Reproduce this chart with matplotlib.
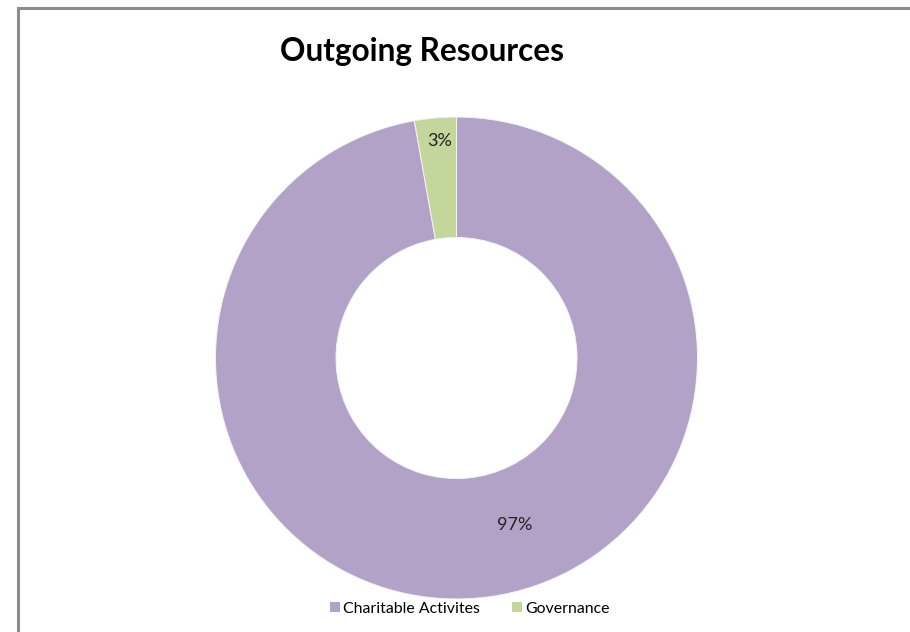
import matplotlib
matplotlib.use("Agg")
import matplotlib.pyplot as plt
from matplotlib.patches import Rectangle, Patch

categories = ["Charitable Activites", "Governance"]
values = [97.2, 2.8]
pct_labels = ["97%", "3%"]
colors = ["#B3A2C7", "#C3D69B"]
title = "Outgoing Resources"

W, H = 910, 632
fig = plt.figure(figsize=(W / 100, H / 100), dpi=100)
fig.patch.set_facecolor("white")

# outer border (left and top visible)
fig.add_artist(Rectangle((17.5 / W, -0.1), 1.2, (H - 7.5) / H + 0.1,
                         transform=fig.transFigure, fill=False,
                         edgecolor="#8c8c8c", linewidth=2.2))

cx, cy, r = 456.5, 358, 241
ax = fig.add_axes([(cx - r) / W, (H - cy - r) / H, 2 * r / W, 2 * r / H])
wedges, _ = ax.pie(values, colors=colors, startangle=90, counterclock=False,
                   radius=1.0, wedgeprops=dict(width=0.5, edgecolor="#f4f4f4",
                                               linewidth=0.7))
ax.set_xlim(-1, 1)
ax.set_ylim(-1, 1)
ax.set_aspect("equal")
ax.axis("off")

font = ["Lato", "DejaVu Sans"]
# data labels
label_pos = [((515 - cx) / r, (cy - 525) / r), ((440 - cx) / r, (cy - 141) / r)]
for (x, y), t in zip(label_pos, pct_labels):
    ax.text(x, y, t, ha="center", va="center", fontsize=13, color="#222222",
            family=font)

fig.text(422 / W, 1 - 51 / H, title, ha="center", va="center", fontsize=22.7,
         fontweight="bold", family=font, color="black")

handles = [Patch(facecolor=c, edgecolor="none") for c in colors]
leg = fig.legend(handles, categories, loc="center", bbox_to_anchor=(470 / W, 1 - 609 / H),
                 ncol=2, frameon=False, handlelength=0.6,
                 handleheight=0.6, handletextpad=0.25, columnspacing=2.0,
                 prop=dict(family=font, size=11.4))

fig.savefig("out.png", dpi=100, facecolor="white")
